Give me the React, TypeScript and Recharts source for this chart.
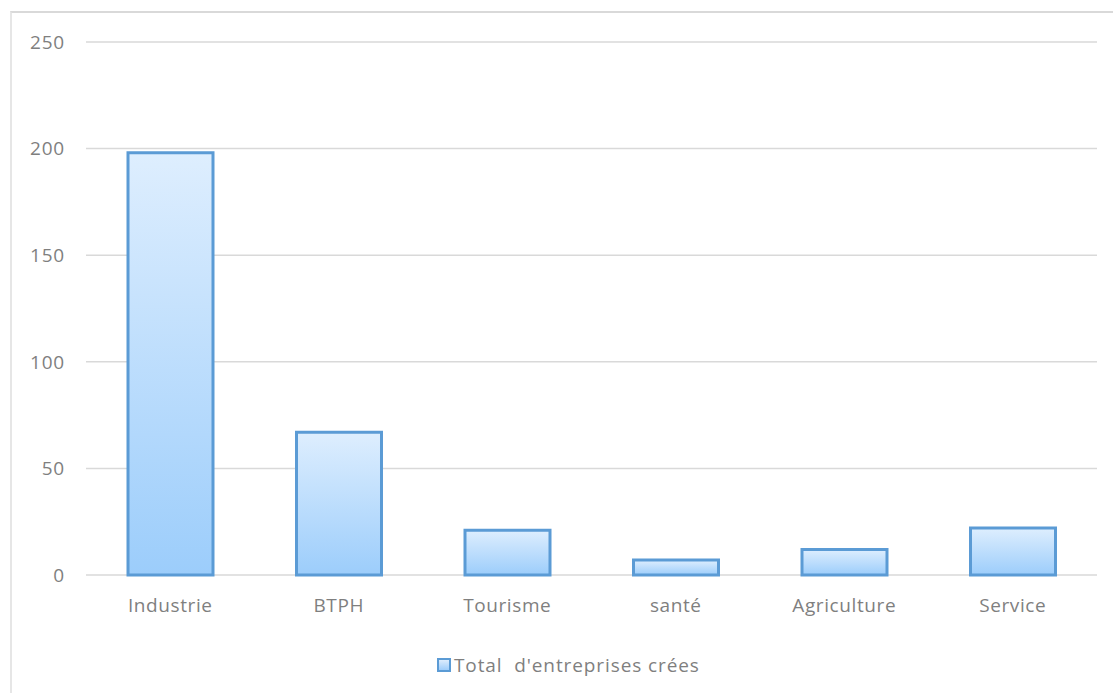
import { BarChart, Bar, XAxis, YAxis, CartesianGrid, Legend } from 'recharts';

const categories = ['Industrie', 'BTPH', 'Tourisme', 'santé', 'Agriculture', 'Service'];
const totals = [198, 67, 21, 7, 12, 22];
const yTicks = [0, 50, 100, 150, 200, 250];
const seriesName = "Total  d'entreprises crées";

const chartData = categories.map((name, i) => ({ name, total: totals[i] }));

const FONT = '"Open Sans", sans-serif';
const TEXT = '#7f7f7f';

// legend: little gradient square + label, pushed to where the original sits
function LegendContent() {
  return (
    <div style={{ height: 54, paddingLeft: 437, paddingTop: 26, boxSizing: 'border-box', display: 'flex', alignItems: 'center' }}>
      <span
        style={{
          display: 'inline-block',
          width: 10,
          height: 10,
          border: '2px solid #5b9bd5',
          background: 'linear-gradient(#dcecfd, #9ecdfb)',
          marginRight: 3,
        }}
      />
      <span style={{ fontFamily: FONT, fontSize: 19, color: TEXT, whiteSpace: 'pre', lineHeight: '20px', letterSpacing: 0.9 }}>
        {seriesName}
      </span>
    </div>
  );
}

export default function App() {
  return (
    <div style={{ position: 'absolute', left: 0, top: 0, width: 1113, height: 693, background: '#fff', overflow: 'hidden' }}>
      {/* outer chart frame, only top + left edges visible */}
      <div
        style={{
          position: 'absolute',
          left: 10,
          top: 11,
          width: 1120,
          height: 700,
          borderTop: '2px solid #d9d9d9',
          borderLeft: '2px solid #e6e6e6',
        }}
      />
      <div style={{ position: 'absolute', left: 0, top: 0 }}>
        <BarChart width={1113} height={693} data={chartData} margin={{ top: 42, right: 16, left: 0, bottom: 14 }}>
          <defs>
            <linearGradient id="barFill" x1="0" y1="0" x2="0" y2="1">
              <stop offset="0%" stopColor="#deeefe" />
              <stop offset="100%" stopColor="#9ccdfb" />
            </linearGradient>
          </defs>
          <CartesianGrid vertical={false} stroke="#d9d9d9" strokeWidth={1.5} />
          <XAxis
            dataKey="name"
            axisLine={false}
            tickLine={false}
            tickSize={0}
            tickMargin={24}
            height={50}
            tick={{ fill: TEXT, fontFamily: FONT, fontSize: 19, letterSpacing: 0.6 }}
          />
          <YAxis
            domain={[0, 250]}
            ticks={yTicks}
            axisLine={false}
            tickLine={false}
            tickSize={0}
            tickMargin={21}
            width={86}
            tick={{ fill: TEXT, fontFamily: FONT, fontSize: 19, letterSpacing: 0.8 }}
          />
          <Legend verticalAlign="bottom" content={() => <LegendContent />} />
          <Bar
            dataKey="total"
            name={seriesName}
            fill="url(#barFill)"
            stroke="#5b9bd5"
            strokeWidth={3}
            barSize={85}
            isAnimationActive={false}
          />
        </BarChart>
      </div>
    </div>
  );
}
